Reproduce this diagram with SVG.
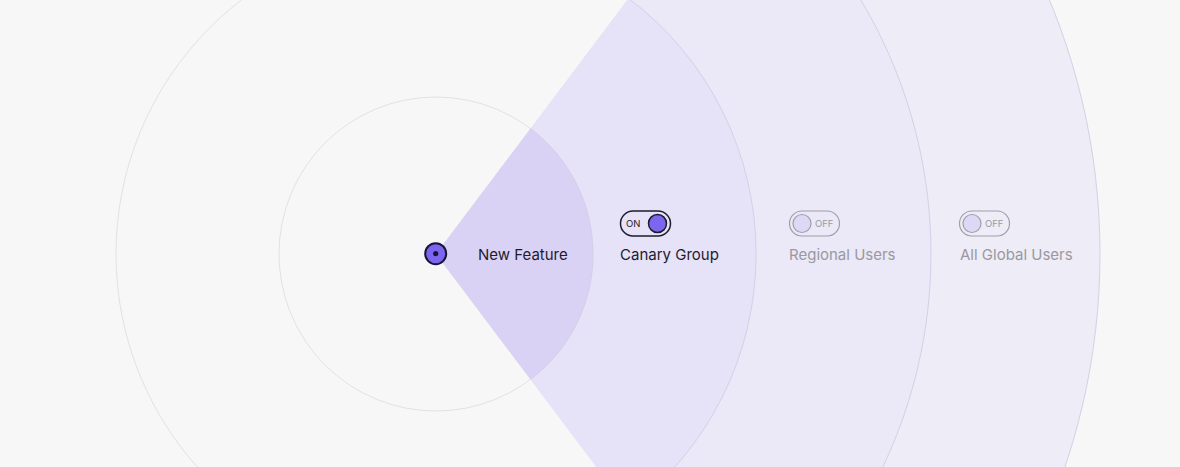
<svg xmlns="http://www.w3.org/2000/svg" width="1180" height="467" viewBox="0 0 1180 467">
  <style>
    .ring { fill: none; stroke: #e2e2e2; stroke-width: 1; }
    .arc { fill: none; stroke: #d4d0e6; stroke-width: 1; }
    .lbl { font-family: Inter, "Liberation Sans", sans-serif; font-size: 15px; }
    .on { fill: #1f1b2e; }
    .off { fill: #9a98a2; }
    .tg-on { fill: none; stroke: #1f1b2e; stroke-width: 1.5; }
    .tg-off { fill: none; stroke: #a09ea8; stroke-width: 1.2; }
    .tt { font-family: Inter, "Liberation Sans", sans-serif; font-size: 9.5px; }
  </style>
  <rect x="0" y="0" width="1180" height="467" fill="#f7f7f7"/>
  <g id="rings">
    <circle class="ring" cx="436" cy="254" r="157"/>
    <circle class="ring" cx="436" cy="254" r="320"/>
  </g>
  <g id="beam">
    <path fill="#eeecf6" d="M436,254 L835.6,-276.3 A664,664 0 0 1 835.6,784.3 Z"/>
    <path fill="#ebe8f7" d="M436,254 L733.9,-141.3 A495,495 0 0 1 733.9,649.3 Z"/>
    <path fill="#e6e2f7" d="M436,254 L628.6,-1.6 A320,320 0 0 1 628.6,509.6 Z"/>
    <path fill="#d9d2f5" d="M436,254 L530.5,128.6 A157,157 0 0 1 530.5,379.4 Z"/>
    <path class="arc" d="M835.6,-276.3 A664,664 0 0 1 835.6,784.3"/>
    <path class="arc" d="M733.9,-141.3 A495,495 0 0 1 733.9,649.3"/>
    <path class="arc" d="M628.6,-1.6 A320,320 0 0 1 628.6,509.6"/>
    <path class="arc" d="M530.5,128.6 A157,157 0 0 1 530.5,379.4"/>
  </g>
  <g id="connectors"></g>
  <g id="node-new-feature">
    <circle cx="435.7" cy="253.7" r="10.5" fill="#7b66f0" stroke="#1c1238" stroke-width="2"/>
    <circle cx="435.7" cy="253.7" r="2.6" fill="#1c1238"/>
    <text class="lbl on" x="478" y="259.5">New Feature</text>
  </g>
  <g id="node-canary">
    <rect class="tg-on" x="620.5" y="211" width="50" height="25" rx="12.5"/>
    <text class="tt on" x="626" y="227">ON</text>
    <circle cx="657.5" cy="223.5" r="9" fill="#7b66f0" stroke="#1f1b2e" stroke-width="1.5"/>
    <text class="lbl on" x="620" y="259.5">Canary Group</text>
  </g>
  <g id="node-regional">
    <rect class="tg-off" x="789.5" y="211" width="50" height="25" rx="12.5"/>
    <circle cx="802" cy="223.5" r="9" fill="#dcd9f6" stroke="#a09ea8" stroke-width="1.2"/>
    <text class="tt off" x="815" y="227">OFF</text>
    <text class="lbl off" x="789" y="259.5">Regional Users</text>
  </g>
  <g id="node-global">
    <rect class="tg-off" x="959.5" y="211" width="50" height="25" rx="12.5"/>
    <circle cx="972" cy="223.5" r="9" fill="#dcd9f6" stroke="#a09ea8" stroke-width="1.2"/>
    <text class="tt off" x="985" y="227">OFF</text>
    <text class="lbl off" x="960" y="259.5">All Global Users</text>
  </g>
</svg>
